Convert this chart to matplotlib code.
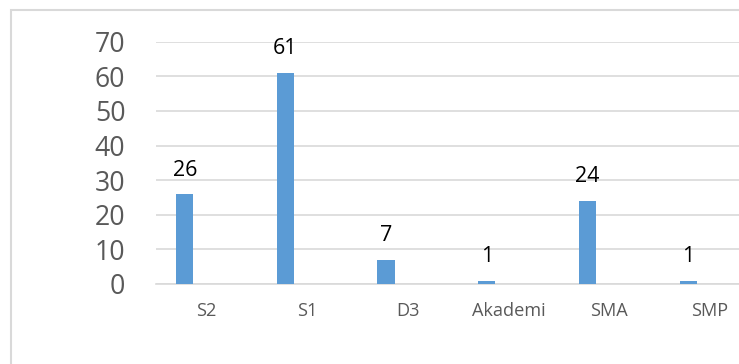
import matplotlib
matplotlib.use("Agg")
import matplotlib.pyplot as plt
from matplotlib.patches import Rectangle

categories = ["S2", "S1", "D3", "Akademi", "SMA", "SMP"]
values = [26, 61, 7, 1, 24, 1]
y_ticks = [0, 10, 20, 30, 40, 50, 60, 70]

W, H = 739, 364
fig = plt.figure(figsize=(W / 100, H / 100), dpi=100)
plt.rcParams["font.family"] = ["Open Sans", "DejaVu Sans"]

# plot area runs past the right edge of the canvas
left, bottom_px, top_px, slot_px = 156, 284, 41.7, 100.7
ax = fig.add_axes([left / W, (H - bottom_px) / H,
                   slot_px * len(categories) / W, (bottom_px - top_px) / H])

x = list(range(len(categories)))
bar_x = [i - 0.215 for i in x]
bars = ax.bar(bar_x, values, width=0.172, color="#5B9BD5", zorder=3)

for bx, v in zip(bar_x, values):
    ax.annotate(str(v), (bx, v), xytext=(0, 13.3), textcoords="offset points",
                ha="center", va="baseline", fontsize=15.5, color="#000000")

ax.set_xlim(-0.5, len(categories) - 0.5)
ax.set_ylim(0, 70)
ax.set_yticks(y_ticks)
ax.set_xticks(x)
ax.set_xticklabels(categories)
ax.tick_params(axis="y", length=0, pad=22, labelsize=19.2, labelcolor="#595959")
ax.tick_params(axis="x", length=0, pad=13, labelsize=13.1, labelcolor="#595959")

ax.grid(axis="y", color="#d9d9d9", linewidth=1.2, zorder=0)
for s in ["top", "right", "left"]:
    ax.spines[s].set_visible(False)
ax.spines["bottom"].set_color("#d9d9d9")
ax.spines["bottom"].set_linewidth(1.2)
ax.set_facecolor("none")

# chart frame
fig.patches.append(Rectangle((10.5 / W, -0.1), 2.0, 1.1 - 10 / H,
                             transform=fig.transFigure, fill=False,
                             edgecolor="#d9d9d9", linewidth=1.5, zorder=0))

fig.savefig("out.png", dpi=100)
